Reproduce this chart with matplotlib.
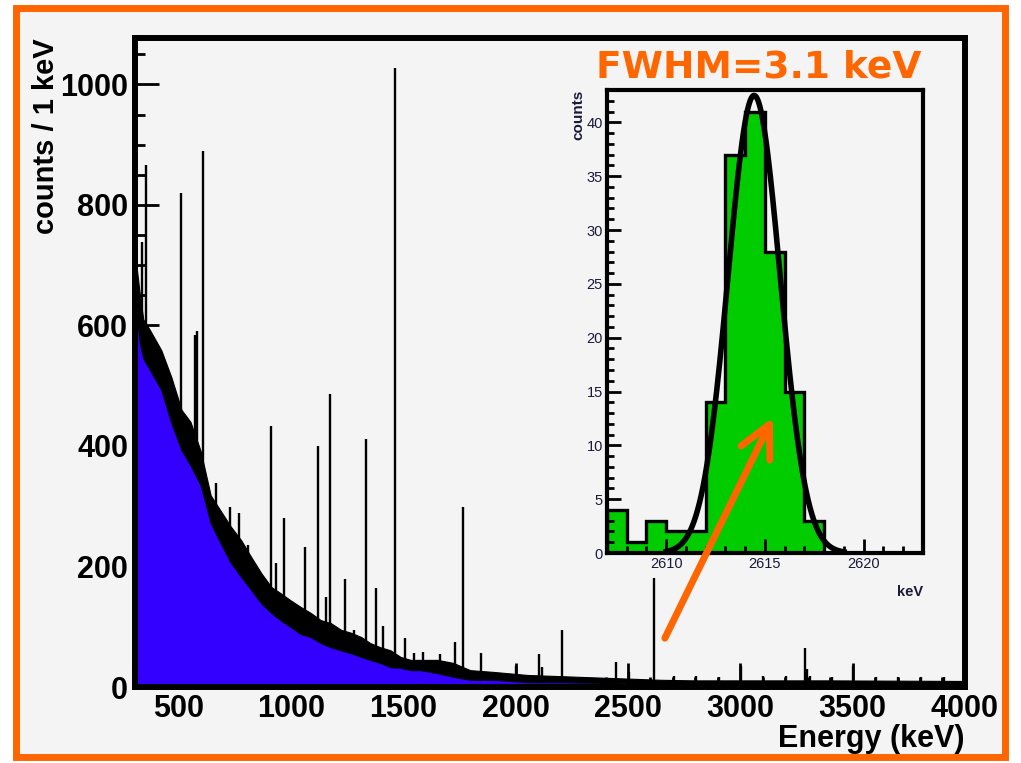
import numpy as np
import matplotlib
matplotlib.use("Agg")
import matplotlib.pyplot as plt
from matplotlib.patches import Rectangle
from matplotlib.ticker import MultipleLocator

plt.rcParams['font.family'] = ['Liberation Sans', 'DejaVu Sans']

# continuum of the spectrum: lower / upper edge of the noisy band (counts / 1 keV)
cont_energy = [305, 327, 342, 372, 422, 467, 512, 552, 597, 642, 687, 732, 777, 822, 867,
               912, 952, 997, 1042, 1087, 1132, 1177, 1222, 1267, 1312, 1352, 1397, 1442,
               1487, 1532, 1577, 1652, 1722, 1797, 1902, 2052, 2202, 2347, 2497, 2642, 2792,
               3000, 3400, 4000]
cont_low = [640, 570, 545, 526, 493, 438, 393, 368, 335, 272, 238, 206, 183, 161, 139,
            123, 111, 100, 88, 83, 73, 66, 61, 56, 50, 45, 40, 33, 32, 28, 28, 23, 17, 12,
            12, 8, 8, 7, 6, 5, 5, 5, 5, 5]
cont_high = [720, 650, 610, 592, 559, 514, 460, 440, 392, 318, 292, 266, 244, 216, 189,
             166, 156, 144, 133, 123, 111, 106, 95, 90, 83, 73, 66, 61, 50, 45, 45, 45, 40,
             28, 25, 20, 18, 16, 14, 12, 11, 11, 11, 10]

# gamma lines (energy in keV, peak bin content)
peak_energy = [338, 352, 511, 570, 583, 609, 665, 727, 768, 806, 911, 934, 969, 1063,
               1120, 1155, 1173, 1238, 1281, 1332, 1377, 1408, 1461, 1509, 1545, 1588,
               1661, 1730, 1764, 1847, 2000, 2104, 2118, 2204, 2448, 2505, 2614, 2703,
               2804, 2903, 3004, 3103, 3204, 3290, 3298, 3308, 3410, 3503, 3604, 3703,
               3804, 3907]
peak_counts = [738, 866, 820, 584, 591, 890, 338, 298, 288, 236, 433, 205, 280, 232,
               400, 150, 487, 180, 95, 412, 165, 101, 1028, 81, 56, 58,
               55, 75, 298, 56, 35, 55, 34, 95, 41, 25, 181, 18,
               18, 17, 35, 18, 18, 65, 30, 18, 17, 35, 17, 17,
               17, 17]

# inset: 208Tl line, 1 keV bins
inset_edges = list(range(2607, 2624))
inset_counts = [4, 1, 3, 2, 2, 14, 37, 41, 28, 15, 3, 0, 0, 0, 0, 0]
fit_mean = 2614.45
fit_fwhm = 3.1
fit_amp = 42.5
fit_range = (2610.0, 2619.0)

blue = '#3300ff'
green = '#00cc00'
orange = '#ff6600'
bg = '#f4f4f4'
navy = '#1a1a3a'

fig = plt.figure(figsize=(10.21, 7.63), dpi=100)
fig.patch.set_facecolor('white')
fig.patches.append(Rectangle((0.016, 0.008), 0.968, 0.982, transform=fig.transFigure,
                             facecolor=bg, edgecolor=orange, linewidth=5, zorder=-10))

ax = fig.add_axes([0.1322, 0.0996, 0.8129, 0.8506])
ax.set_facecolor(bg)

# lines first, continuum drawn over their lower part
ax.vlines(peak_energy, 0, peak_counts, color='black', linewidth=1.7, zorder=1)
ax.fill_between(cont_energy, 0, cont_low, color=blue, linewidth=0, zorder=2)
ax.fill_between(cont_energy, cont_low, cont_high, color='black', linewidth=0.8, zorder=3)

ax.set_xlim(305, 4000)
ax.set_ylim(0, 1077)
ax.xaxis.set_major_locator(MultipleLocator(500))
ax.xaxis.set_minor_locator(MultipleLocator(100))
ax.yaxis.set_major_locator(MultipleLocator(200))
ax.yaxis.set_minor_locator(MultipleLocator(50))
ax.tick_params(which='both', direction='in', top=False, right=False, width=2)
ax.tick_params(which='major', length=17, labelsize=22, pad=5)
ax.tick_params(which='minor', length=7)
for lab in ax.get_xticklabels() + ax.get_yticklabels():
    lab.set_fontweight('bold')
for sp in ax.spines.values():
    sp.set_linewidth(4.3)
ax.set_xlabel('Energy (keV)', fontsize=22, fontweight='bold', loc='right', labelpad=0)
ax.set_ylabel('counts / 1 keV', fontsize=21, fontweight='bold', loc='top', labelpad=0)

# inset with the 2614.5 keV peak
axin = fig.add_axes([0.5945, 0.2752, 0.3095, 0.6068])
axin.set_facecolor(bg)
axin.stairs(inset_counts, inset_edges, fill=True, color=green, zorder=1)
axin.stairs(inset_counts, inset_edges, color='black', linewidth=2.4, zorder=2)
xf = np.linspace(fit_range[0], fit_range[1], 300)
sigma = fit_fwhm / 2.3548
axin.plot(xf, fit_amp * np.exp(-0.5 * ((xf - fit_mean) / sigma) ** 2),
          color='black', linewidth=4, zorder=3)
axin.set_xlim(2607, 2623)
axin.set_ylim(0, 43)
axin.xaxis.set_major_locator(MultipleLocator(5))
axin.xaxis.set_minor_locator(MultipleLocator(1))
axin.yaxis.set_major_locator(MultipleLocator(5))
axin.yaxis.set_minor_locator(MultipleLocator(1))
axin.tick_params(which='both', direction='in', top=False, right=False, width=2,
                 colors='black', labelcolor=navy)
axin.tick_params(which='major', length=10, labelsize=10.5, pad=3)
axin.tick_params(which='minor', length=5)
for sp in axin.spines.values():
    sp.set_linewidth(3)
axin.set_xlabel('keV', fontsize=10.5, fontweight='bold', loc='right', color=navy, labelpad=10)
axin.set_ylabel('counts', fontsize=11, fontweight='bold', loc='top', color=navy, labelpad=1)

fig.text(0.743, 0.911, 'FWHM=3.1 keV', color=orange, fontsize=27, fontweight='bold',
         family='DejaVu Sans', ha='center', va='center')

axin.annotate('', xy=(2615.4, 12.6), xycoords=axin.transData,
              xytext=(2664, 81), textcoords=ax.transData,
              arrowprops=dict(arrowstyle='->,head_length=2.3,head_width=1.15',
                              color=orange, lw=5, shrinkA=0, shrinkB=0),
              annotation_clip=False, zorder=10)

fig.savefig('out.png', dpi=100, facecolor=fig.get_facecolor())
